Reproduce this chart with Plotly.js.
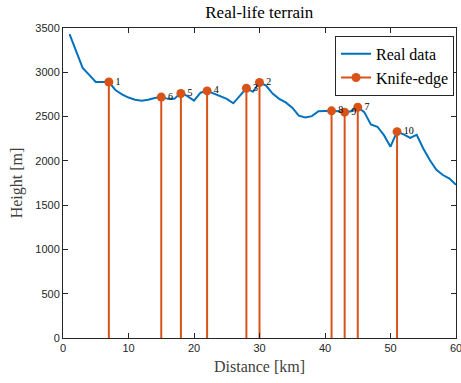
<!DOCTYPE html>
<html>
<head>
<meta charset="utf-8">
<script src="https://cdn.plot.ly/plotly-3.0.1.min.js"></script>
<style>html,body{margin:0;padding:0;background:#fff;}#chart{width:461px;height:383px;}</style>
</head>
<body>
<div id="chart"></div>
<script>
const distanceKm = [1,2,3,4,5,6,7,8,9,10,11,12,13,14,15,16,17,18,19,20,21,22,23,24,25,26,27,28,29,30,31,32,33,34,35,36,37,38,39,40,41,42,43,44,45,46,47,48,49,50,51,52,53,54,55,56,57,58,59,60];
const heightM = [3430,3240,3050,2970,2890,2890,2890,2800,2750,2715,2690,2680,2690,2710,2720,2700,2700,2770,2730,2680,2770,2790,2760,2735,2700,2650,2730,2820,2780,2885,2850,2760,2700,2660,2600,2510,2490,2505,2560,2565,2565,2560,2550,2560,2605,2550,2410,2385,2290,2160,2330,2300,2260,2295,2140,2010,1900,1840,1800,1730];
const knifeX = [7,30,28,22,18,15,45,41,43,51];
const knifeY = [2890,2885,2820,2790,2760,2720,2605,2565,2550,2330];
const knifeLabels = ['1','2','3','4','5','6','7','8','9','10'];
const xTicks = [0,10,20,30,40,50,60];
const yTicks = [0,500,1000,1500,2000,2500,3000,3500];

const blue = '#0072BD', orange = '#D95319';
const serif = '"Liberation Serif", "DejaVu Serif", serif';
const sans = '"Liberation Sans", Arial, sans-serif';

const stemX = [], stemY = [];
knifeX.forEach((x, i) => { stemX.push(x, x, null); stemY.push(0, knifeY[i], null); });

const traces = [
  {x: distanceKm, y: heightM, type: 'scatter', mode: 'lines', name: 'Real data',
   line: {color: blue, width: 2}},
  {x: stemX, y: stemY, type: 'scatter', mode: 'lines', showlegend: false,
   line: {color: orange, width: 2}, hoverinfo: 'skip'},
  {x: knifeX, y: knifeY, type: 'scatter', mode: 'markers+text', showlegend: false,
   marker: {color: orange, size: 9}, text: knifeLabels, textposition: 'middle right',
   textfont: {family: serif, size: 10, color: '#000'}},
  {x: [null], y: [null], type: 'scatter', mode: 'lines+markers', name: 'Knife-edge',
   line: {color: orange, width: 2}, marker: {color: orange, size: 9}}
];

const axisCommon = {
  showline: true, linecolor: '#262626', linewidth: 1, mirror: 'ticks',
  ticks: 'inside', ticklen: 5, tickcolor: '#262626', showgrid: false, zeroline: false,
  ticklabeloverflow: 'allow',
  tickfont: {family: sans, size: 11, color: '#262626'}
};

const layout = {
  width: 461, height: 383,
  margin: {l: 63, r: 5, t: 28, b: 45},
  paper_bgcolor: '#fff', plot_bgcolor: '#fff',
  title: {text: 'Real-life terrain', font: {family: serif, size: 17, color: '#000'}, x: 0.5625, xanchor: 'center', y: 0.968, yanchor: 'middle'},
  xaxis: Object.assign({}, axisCommon, {range: [0, 60], tickvals: xTicks,
    title: {text: 'Distance [km]', font: {family: serif, size: 16, color: '#404040'}, standoff: 7}}),
  yaxis: Object.assign({}, axisCommon, {range: [0, 3500], tickvals: yTicks,
    title: {text: 'Height [m]', font: {family: serif, size: 16, color: '#404040'}, standoff: 8}}),
  legend: {x: 0.995, y: 0.975, xanchor: 'right', yanchor: 'top', bordercolor: '#262626', borderwidth: 1,
    bgcolor: '#fff', font: {family: serif, size: 16, color: '#000'}, tracegroupgap: 0},
  showlegend: true
};

Plotly.newPlot('chart', traces, layout, {displayModeBar: false, staticPlot: true});
</script>
</body>
</html>
